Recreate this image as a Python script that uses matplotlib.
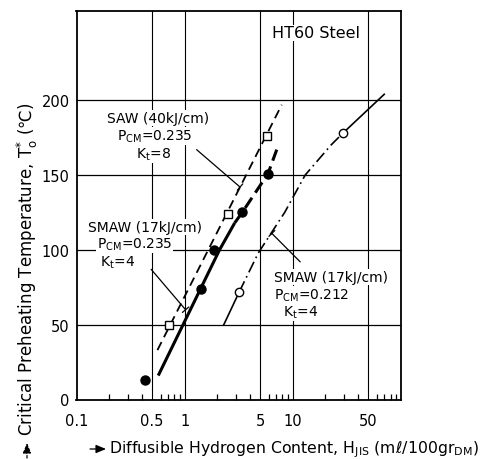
import matplotlib
matplotlib.use("Agg")
import matplotlib.pyplot as plt

plt.rcParams["font.family"] = ["DejaVu Sans"]

W, H = 487, 460  # canvas size in pixels

# SAW (40 kJ/cm), Pcm = 0.235, Kt = 8 -- open squares and dashed fit
saw_h = [0.72, 2.5, 5.8]
saw_t = [50, 124, 176]
saw_fit_h = [0.56, 7.9]
saw_fit_t = [33, 197]

# SMAW (17 kJ/cm), Pcm = 0.235, Kt = 4 -- filled circles, heavy fit line
smaw_a_h = [0.43, 1.42, 1.88, 3.4, 5.9]
smaw_a_t = [13, 74, 100, 125, 151]
smaw_a_solid_h = [0.57, 2.1, 2.9]
smaw_a_solid_t = [16, 100, 118]
smaw_a_dash_h = [2.9, 3.4, 5.9, 7.1]
smaw_a_dash_t = [118, 125, 151, 167]

# SMAW (17 kJ/cm), Pcm = 0.212, Kt = 4 -- open circles, chain-line curve
smaw_b_h = [3.2, 29]
smaw_b_t = [72, 178]
smaw_b_fit_h = [2.3, 3.2, 4.8, 8.4, 13, 22.5, 29, 70]
smaw_b_fit_t = [50, 72, 98, 125, 150, 170, 178, 204]

x_ticks = [0.1, 0.5, 1, 5, 10, 50]
x_tick_labels = ["0.1", "0.5", "1", "5", "10", "50"]
y_ticks = [0, 50, 100, 150, 200]
y_tick_labels = ["0", "50", "100", "150", "200"]
x_grid = [0.5, 1, 5, 10, 50]
y_grid = [50, 100, 150, 200]


def fig_xy(px, py):
    """pixel position (from top-left) -> figure fraction"""
    return px / W, 1 - py / H


fig = plt.figure(figsize=(W / 100, H / 100), dpi=100)
ax = fig.add_axes([76.5 / W, 1 - 400.5 / H, (401 - 76.5) / W, 389 / H])
ax.set_xscale("log")
ax.set_xlim(0.1, 100)
ax.set_ylim(0, 260)

for g in x_grid:
    ax.axvline(g, color="k", lw=0.8, zorder=1)
for g in y_grid:
    ax.axhline(g, color="k", lw=0.9, zorder=1)

ax.set_xticks(x_ticks)
ax.set_xticklabels(x_tick_labels)
ax.set_yticks(y_ticks)
ax.set_yticklabels(y_tick_labels)
ax.tick_params(axis="both", which="major", length=0, labelsize=10.5)
ax.tick_params(axis="x", which="major", pad=10)
ax.tick_params(axis="y", which="major", pad=5)
ax.tick_params(axis="x", which="minor", direction="in", length=4, width=0.9)
ax.xaxis.set_minor_formatter(matplotlib.ticker.NullFormatter())
for s in ax.spines.values():
    s.set_linewidth(1.3)

# fitted lines
ax.plot(saw_fit_h, saw_fit_t, color="k", lw=1.3, ls=(0, (5, 3)), zorder=3)
ax.plot(smaw_a_solid_h, smaw_a_solid_t, color="k", lw=2.2, zorder=3,
        solid_capstyle="butt")
ax.plot(smaw_a_dash_h, smaw_a_dash_t, color="k", lw=2.2, ls=(0, (4, 2)),
        zorder=3)
ax.plot(smaw_b_fit_h[:2], smaw_b_fit_t[:2], color="k", lw=1.2, zorder=3)
ax.plot(smaw_b_fit_h[1:7], smaw_b_fit_t[1:7], color="k", lw=1.2,
        ls=(0, (7, 2.5, 1, 2.5)), zorder=3)
ax.plot(smaw_b_fit_h[6:], smaw_b_fit_t[6:], color="k", lw=1.2, zorder=3)

# measured points
ax.plot(saw_h, saw_t, "s", ms=5.5, mfc="white", mec="k", mew=1.0, zorder=4)
ax.plot(smaw_a_h, smaw_a_t, "o", ms=6.5, mfc="k", mec="k", zorder=4)
ax.plot(smaw_b_h, smaw_b_t, "o", ms=6, mfc="white", mec="k", mew=1.0,
        zorder=4)

# condition labels
box = dict(fc="white", ec="none", pad=0.6)
lab = dict(fontsize=10, va="center", ha="left", bbox=box, zorder=5)
fig.text(*fig_xy(107, 119), "SAW (40kJ/cm)", **lab)
fig.text(*fig_xy(117, 137), r"P$_{\mathrm{CM}}$=0.235", **lab)
fig.text(*fig_xy(136, 155), r"K$_{\mathrm{t}}$=8", **lab)

fig.text(*fig_xy(88, 228), "SMAW (17kJ/cm)", **lab)
fig.text(*fig_xy(97, 245), r"P$_{\mathrm{CM}}$=0.235", **lab)
fig.text(*fig_xy(100, 263), r"K$_{\mathrm{t}}$=4", **lab)

fig.text(*fig_xy(274, 278), "SMAW (17kJ/cm)", **lab)
fig.text(*fig_xy(274, 296), r"P$_{\mathrm{CM}}$=0.212", **lab)
fig.text(*fig_xy(283, 313), r"K$_{\mathrm{t}}$=4", **lab)

fig.text(*fig_xy(316, 34), "HT60 Steel", fontsize=11.5, ha="center",
         va="center", bbox=box)

# leader lines from the labels to their curves
lead = dict(arrowstyle="-[, widthB=0.3, lengthB=0", lw=0.9, color="k",
            shrinkA=0, shrinkB=0)
ax.annotate("", xy=(3.25, 142), xytext=(1.29, 167), arrowprops=lead)
ax.annotate("", xy=(1.02, 60), xytext=(0.49, 87), arrowprops=lead)
ax.annotate("", xy=(6.4, 111), xytext=(11.7, 92), arrowprops=lead)

# axis titles with their direction arrows
fig.text(*fig_xy(27, 269),
         r"Critical Preheating Temperature, T$_{\mathrm{o}}^{*}$ (℃)",
         rotation=90, fontsize=12.0, ha="center", va="center")
fig.text(*fig_xy(109, 450),
         r"Diffusible Hydrogen Content, H$_{\mathrm{JIS}}$ (mℓ/100gr$_{\mathrm{DM}}$)",
         fontsize=11.35, ha="left", va="center")
arrow = "-|>, head_length=0.6, head_width=0.25"
fig.add_artist(matplotlib.patches.FancyArrowPatch(
    fig_xy(27, 459), fig_xy(27, 444), transform=fig.transFigure,
    arrowstyle=arrow, mutation_scale=10, lw=0.9,
    linestyle=(0, (2, 1.5)), color="k", shrinkA=0, shrinkB=0))
fig.add_artist(matplotlib.patches.FancyArrowPatch(
    fig_xy(90, 450), fig_xy(106, 450), transform=fig.transFigure,
    arrowstyle=arrow, mutation_scale=10, lw=0.9, color="k",
    shrinkA=0, shrinkB=0))

fig.savefig("out.png", dpi=100)
